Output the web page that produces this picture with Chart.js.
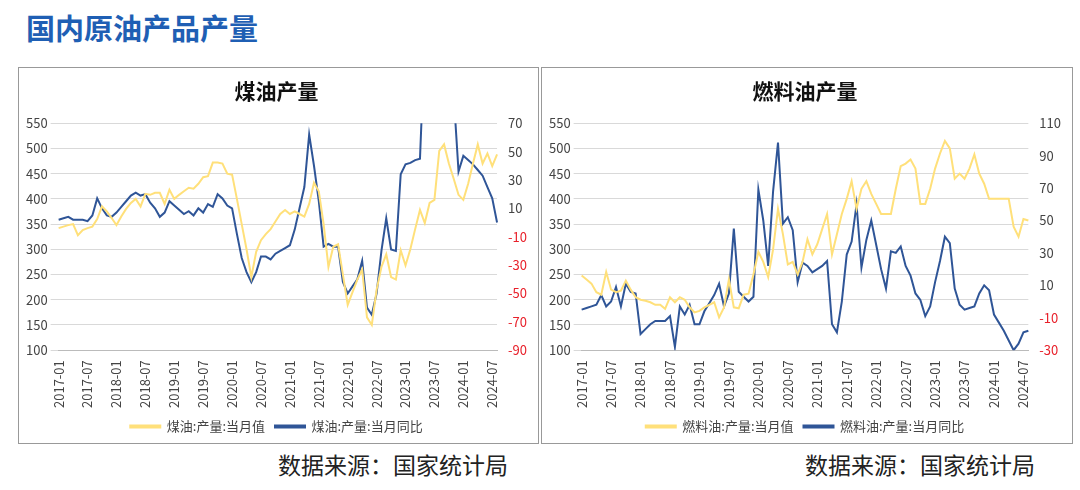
<!DOCTYPE html>
<html><head><meta charset="utf-8">
<script src="https://cdn.jsdelivr.net/npm/chart.js@4"></script>
<style>
body{margin:0;width:1080px;height:490px;background:#fff;font-family:"Noto Sans CJK SC",sans-serif;position:relative;overflow:hidden}
#title{position:absolute;left:26px;top:6px;font-size:29px;font-weight:bold;color:#1f5fb4}
.panel{position:absolute;top:67px;height:377px;border:1px solid #999;box-sizing:border-box}
.src{position:absolute;top:447px;font-size:23px;color:#222}
</style></head><body>
<div id="title">国内原油产品产量</div>
<div class="panel" style="left:18px;width:521px"><canvas id="c1"></canvas></div>
<div class="panel" style="left:541px;width:532px"><canvas id="c2"></canvas></div>
<div class="src" style="left:278px">数据来源：国家统计局</div>
<div class="src" style="left:805px">数据来源：国家统计局</div>
<script>
// months 2017-01 .. 2024-08
const months = [];
for (let y = 2017; y <= 2024; y++) for (let m = 1; m <= 12; m++) {
  if (y === 2024 && m > 8) break;
  months.push(y + '-' + String(m).padStart(2, '0'));
}

// 煤油
const keroseneOutput = [
  342,345,348,350,328,338,342,345,360,385,375,362,
  348,365,380,392,400,385,410,408,412,412,390,418,
  400,408,415,422,420,430,443,445,472,472,470,450,
  448,400,350,300,245,295,318,330,340,355,370,378,
  370,375,370,365,390,432,415,350,265,305,310,250,
  190,215,240,260,165,150,220,265,290,245,240,298,
  268,300,340,378,352,392,398,495,508,470,440,408,
  398,430,470,508,470,490,465,488];
const keroseneYoy = [
  2,3,4,2,2,2,1,5,17,10,5,4,
  7,11,15,19,21,19,20,14,10,4,7,15,
  12,9,6,8,5,10,7,13,11,20,17,12,
  10,-8,-25,-35,-42,-35,-24,-24,-26,-22,-20,-18,
  -16,-5,10,25,62,40,15,-17,-15,-17,-17,-42,
  -50,-45,-40,-27,-60,-65,-50,-20,3,-19,-20,34,
  41,42,44,45,130,160,180,150,130,110,90,36,
  47,44,41,37,33,25,17,0];

// 燃料油
const fuelOutput = [
  248,240,232,215,210,255,220,215,218,238,220,205,
  200,198,195,190,190,182,205,195,205,200,185,175,
  178,185,190,195,165,185,240,185,183,210,212,250,
  295,275,245,300,380,330,270,275,250,275,320,290,
  310,340,370,290,330,370,400,435,380,420,435,410,
  390,370,370,370,420,465,470,478,460,390,390,420,
  460,490,515,500,440,450,440,460,488,450,430,400,
  400,400,400,400,345,325,360,357];
const fuelYoy = [
  -5,-4,-3,-2,4,-3,0,9,-3,11,6,5,
  -20,-17,-14,-12,-12,-12,-9,-28,-3,-8,-2,-14,
  -14,-6,-1,4,11,-3,5,45,6,3,0,3,
  69,50,22,68,98,48,52,44,12,24,22,18,
  20,22,25,-14,-19,0,29,37,60,21,38,50,
  35,20,8,31,30,34,22,16,5,1,-9,-3,
  12,25,40,36,8,-2,-5,-4,-3,5,10,7,
  -8,-13,-18,-24,-30,-26,-19,-18];

const YELLOW = '#ffe07a', BLUE = '#2f5597';
const font = { family: '"Noto Sans CJK SC", sans-serif', size: 13 };

function makeChart(id, title, names, output, yoy, rMin, rMax) {
  new Chart(document.getElementById(id), {
    type: 'line',
    data: {
      labels: months,
      datasets: [
        { label: names[0], data: output, borderColor: YELLOW, backgroundColor: YELLOW, borderWidth: 2, pointRadius: 0, yAxisID: 'y' },
        { label: names[1], data: yoy, borderColor: BLUE, backgroundColor: BLUE, borderWidth: 2, pointRadius: 0, yAxisID: 'y1' }
      ]
    },
    options: {
      responsive: true, maintainAspectRatio: false, animation: false,
      layout: { padding: { left: 4, right: 8, top: 4, bottom: 0 } },
      plugins: {
        title: { display: true, text: title, color: '#111', font: { family: font.family, size: 21, weight: 'bold' }, padding: { top: 6, bottom: 20 } },
        legend: { position: 'bottom', labels: { boxWidth: 30, boxHeight: 2, color: '#444', font: font, padding: 10 } },
        tooltip: { enabled: false }
      },
      scales: {
        x: {
          grid: { display: false },
          border: { color: '#bbb' },
          ticks: { autoSkip: false, minRotation: 90, maxRotation: 90, color: '#444', font: font, padding: 2,
            callback: (v, i) => i % 6 === 0 ? months[i] : '' }
        },
        y: {
          min: 100, max: 550, position: 'left',
          ticks: { stepSize: 50, color: '#444', font: font },
          grid: { color: '#d9d9d9' }, border: { display: false }
        },
        y1: {
          min: rMin, max: rMax, position: 'right',
          ticks: { stepSize: 20, color: c => c.tick.value < 0 ? '#e8202a' : '#444', font: font },
          grid: { display: false }, border: { display: false }
        }
      }
    }
  });
}

makeChart('c1', '煤油产量', ['煤油:产量:当月值', '煤油:产量:当月同比'], keroseneOutput, keroseneYoy, -90, 70);
makeChart('c2', '燃料油产量', ['燃料油:产量:当月值', '燃料油:产量:当月同比'], fuelOutput, fuelYoy, -30, 110);
</script>
</body></html>
